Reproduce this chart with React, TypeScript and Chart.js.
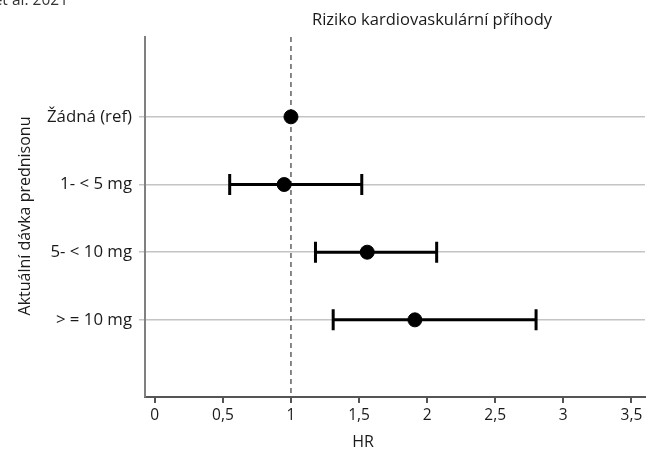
import React, { useEffect, useRef } from "react";
import { Chart, registerables } from "chart.js";

Chart.register(...registerables);

const categories = ["Žádná (ref)", "1- < 5 mg", "5- < 10 mg", "> = 10 mg"];
const hrValues = [1.0, 0.95, 1.56, 1.91];
const ciLower = [null, 0.55, 1.18, 1.31];
const ciUpper = [null, 1.52, 2.07, 2.8];
const xTicks = [0, 0.5, 1, 1.5, 2, 2.5, 3, 3.5];
const chartTitle = "Riziko kardiovaskulární příhody";
const xTitle = "HR";
const yTitle = "Aktuální dávka prednisonu";
const cornerText = "et al. 2021";
const refLine = 1;

const FONT = "'Open Sans', 'Noto Sans', sans-serif";

const overlayPlugin = {
  id: "overlay",
  beforeDatasetsDraw(chart: any) {
    const { ctx, chartArea, scales } = chart;
    const x = scales.x;
    const px = x.getPixelForValue(refLine);
    ctx.save();
    ctx.strokeStyle = "#111";
    ctx.lineWidth = 1;
    ctx.setLineDash([5, 4]);
    ctx.beginPath();
    ctx.moveTo(px, chartArea.top);
    ctx.lineTo(px, chartArea.bottom);
    ctx.stroke();
    ctx.restore();

    const y = scales.y;
    ctx.save();
    ctx.strokeStyle = "#000";
    ctx.lineWidth = 3;
    for (let i = 0; i < categories.length; i++) {
      const lo = ciLower[i];
      const hi = ciUpper[i];
      if (lo == null || hi == null) continue;
      const py = y.getPixelForValue(i);
      const x1 = x.getPixelForValue(lo);
      const x2 = x.getPixelForValue(hi);
      ctx.beginPath();
      ctx.moveTo(x1, py);
      ctx.lineTo(x2, py);
      ctx.moveTo(x1, py - 10.5);
      ctx.lineTo(x1, py + 10.5);
      ctx.moveTo(x2, py - 10.5);
      ctx.lineTo(x2, py + 10.5);
      ctx.stroke();
    }
    ctx.restore();
  },
  afterDraw(chart: any) {
    const { ctx, scales } = chart;
    ctx.save();
    ctx.fillStyle = "#1a1a1a";
    ctx.textAlign = "center";
    ctx.textBaseline = "middle";
    ctx.font = `15.5px ${FONT}`;
    for (const v of xTicks) {
      ctx.fillText(String(v).replace(".", ","), scales.x.getPixelForValue(v), 416);
    }
    ctx.font = `16.5px ${FONT}`;
    ctx.fillText(chartTitle, 432, 20);
    ctx.font = `16px ${FONT}`;
    ctx.fillText(xTitle, 363, 442);
    ctx.save();
    ctx.translate(25, 216);
    ctx.rotate(-Math.PI / 2);
    ctx.fillText(yTitle, 0, 0);
    ctx.restore();
    ctx.font = `15.5px ${FONT}`;
    ctx.textAlign = "right";
    ctx.textBaseline = "alphabetic";
    ctx.fillStyle = "#333";
    ctx.fillText(cornerText, 68, 5);
    ctx.restore();
  },
};

export default function App() {
  const ref = useRef<HTMLCanvasElement>(null);
  useEffect(() => {
    if (!ref.current) return;
    const chart = new Chart(ref.current, {
      type: "scatter",
      data: {
        datasets: [
          {
            data: hrValues.map((v, i) => ({ x: v, y: i })),
            backgroundColor: "#000",
            borderColor: "#000",
            pointRadius: 7,
            pointHoverRadius: 7,
          },
        ],
      },
      options: {
        animation: false,
        responsive: false,
        devicePixelRatio: 1,
        layout: { padding: { top: 37, right: 0, left: 0, bottom: 0 } },
        plugins: { legend: { display: false }, tooltip: { enabled: false }, title: { display: false } },
        scales: {
          x: {
            type: "linear",
            min: -0.072,
            max: 3.6,
            afterBuildTicks: (s: any) => {
              s.ticks = xTicks.map((v) => ({ value: v }));
            },
            afterFit: (s: any) => {
              s.height = 56;
            },
            ticks: { display: false },
            grid: {
              drawOnChartArea: false,
              drawTicks: true,
              tickLength: 6,
              color: "#555",
              lineWidth: 2,
            },
            border: { display: true, color: "#555", width: 2 },
          },
          y: {
            type: "linear",
            reverse: true,
            min: -1.18,
            max: 4.14,
            afterBuildTicks: (s: any) => {
              s.ticks = categories.map((_, i) => ({ value: i }));
            },
            afterFit: (s: any) => {
              s.width = 145;
            },
            ticks: {
              callback: (v: any) => categories[v as number] ?? "",
              color: "#1a1a1a",
              font: { family: FONT, size: 16.8 },
              padding: 7,
            },
            grid: {
              color: "#c4c4c4",
              lineWidth: 1.5,
              tickLength: 6,
            },
            border: { display: true, color: "#808080", width: 2 },
          },
        },
      },
      plugins: [overlayPlugin],
    });
    return () => chart.destroy();
  }, []);
  return (
    <div style={{ position: "absolute", left: 0, top: 0, width: 653, height: 453 }}>
      <canvas ref={ref} width={653} height={453} style={{ width: 653, height: 453 }} />
    </div>
  );
}
